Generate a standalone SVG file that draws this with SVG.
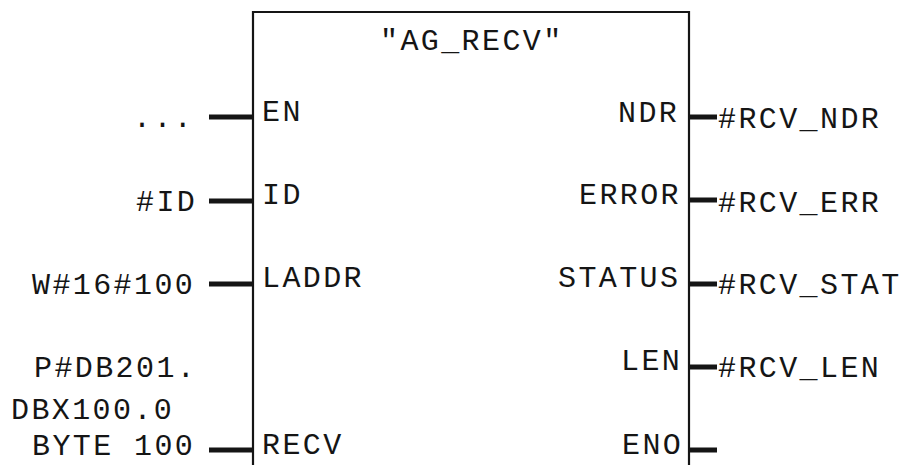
<svg xmlns="http://www.w3.org/2000/svg" width="904" height="465" viewBox="0 0 904 465">
<style>
text{font-family:"Liberation Mono","DejaVu Sans Mono",monospace;font-size:30px;letter-spacing:2.4px;fill:#151515}
.box{fill:#fff;stroke:#151515;stroke-width:2.2}
.stub{stroke:#151515;stroke-width:5;fill:none}
</style>
<rect width="904" height="465" fill="#fff"/>
<g id="block">
<path class="box" d="M253 480 V12 H689 V480"/>
<text x="380" y="50">"AG_RECV"</text>
</g>
<g id="connectors">
<path class="stub" d="M209 117H253M209 201H253M209 284H253M209 450H253"/>
<path class="stub" d="M689 117H717M689 200H717M689 284H717M689 367H717M689 450H717"/>
</g>
<g id="pin-EN"><text x="262" y="121">EN</text><text x="133" y="127">...</text></g>
<g id="pin-ID"><text x="262" y="204">ID</text><text x="136" y="211">#ID</text></g>
<g id="pin-LADDR"><text x="262" y="287">LADDR</text><text x="32" y="294">W#16#100</text></g>
<g id="pin-RECV"><text x="262" y="454">RECV</text><text x="34" y="377">P#DB201.</text><text x="11" y="419">DBX100.0</text><text x="32" y="455">BYTE 100</text></g>
<g id="pin-NDR"><text x="618" y="122">NDR</text><text x="718" y="128">#RCV_NDR</text></g>
<g id="pin-ERROR"><text x="579" y="204">ERROR</text><text x="718" y="212">#RCV_ERR</text></g>
<g id="pin-STATUS"><text x="558" y="287">STATUS</text><text x="718" y="294">#RCV_STAT</text></g>
<g id="pin-LEN"><text x="621" y="370">LEN</text><text x="718" y="377">#RCV_LEN</text></g>
<g id="pin-ENO"><text x="622" y="454">ENO</text></g>
</svg>
